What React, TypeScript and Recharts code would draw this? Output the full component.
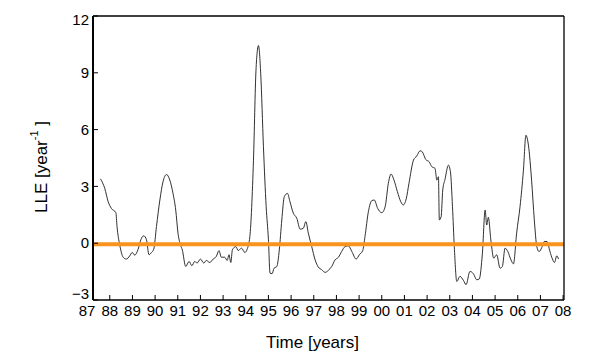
import React from "react";
import { LineChart, Line, XAxis, YAxis, ReferenceLine } from "recharts";

// Time in years (two-digit years continued past 99: 100 = 2000)
const TIME = [
  87.59, 87.78, 87.93, 88.07, 88.27, 88.32, 88.44, 88.59, 88.73, 88.88, 88.99, 89.1, 89.25, 89.37, 89.5,
  89.62, 89.73, 89.84, 89.94, 90.06, 90.21, 90.35, 90.5, 90.65, 90.79, 90.91, 91.01, 91.12, 91.2, 91.35,
  91.5, 91.62, 91.75, 91.85, 92.0, 92.15, 92.26, 92.41, 92.56, 92.7, 92.82, 92.92, 93.07, 93.18, 93.26,
  93.34, 93.41, 93.56, 93.67, 93.81, 93.96, 94.06, 94.18, 94.34, 94.45, 94.56, 94.66, 94.78, 94.9, 95.0,
  95.07, 95.16, 95.25, 95.37, 95.48, 95.59, 95.7, 95.84, 95.95, 96.1, 96.25, 96.4, 96.54, 96.65, 96.76,
  96.91, 97.06, 97.2, 97.35, 97.5, 97.64, 97.79, 97.94, 98.09, 98.23, 98.38, 98.53, 98.68, 98.87, 99.01,
  99.16, 99.26, 99.41, 99.56, 99.67, 99.82, 100.0, 100.15, 100.29, 100.41, 100.54, 100.69, 100.84, 100.95,
  101.08, 101.2, 101.4, 101.54, 101.69, 101.79, 101.94, 102.09, 102.21, 102.35, 102.43, 102.5, 102.54,
  102.62, 102.69, 102.79, 102.94, 103.03, 103.12, 103.2, 103.31, 103.45, 103.6, 103.72, 103.89, 104.04,
  104.19, 104.3, 104.44, 104.56, 104.63, 104.7, 104.82, 104.94, 105.07, 105.22, 105.32, 105.44, 105.56,
  105.7, 105.81, 105.95, 106.1, 106.25, 106.36, 106.47, 106.61, 106.73, 106.84, 106.94, 107.06, 107.17,
  107.29, 107.42, 107.53, 107.62, 107.72, 107.8,
];

// Largest Lyapunov exponent [1/year]
const LLE = [
  3.4, 2.89, 2.19, 1.84, 1.61, 0.88, -0.09, -0.74, -0.84, -0.67, -0.49, -0.63, -0.32, 0.18, 0.39,
  0.18, -0.61, -0.49, -0.32, 0.88, 2.28, 3.25, 3.63, 3.33, 2.63, 1.75, 0.53, -0.09, -0.35, -1.23,
  -0.96, -1.19, -0.96, -1.05, -0.84, -1.05, -0.91, -1.02, -0.84, -0.7, -0.39, -0.74, -0.74, -0.91, -0.61,
  -1.02, -0.35, -0.18, -0.39, -0.26, -0.49, -0.32, 0.35, 4.39, 9.12, 10.44, 8.95, 5.09, 1.93, 0.18,
  -1.58, -1.61, -1.32, -1.23, -0.35, 1.23, 2.46, 2.63, 2.19, 1.58, 1.32, 0.74, 0.79, 1.14, 0.53,
  -0.18, -0.88, -1.26, -1.4, -1.54, -1.44, -1.23, -0.88, -0.74, -0.44, -0.18, -0.14, -0.44, -0.84, -0.61,
  -0.39, 0.35, 1.67, 2.25, 2.28, 1.84, 1.61, 1.93, 3.16, 3.65, 3.33, 2.72, 2.19, 2.02,
  2.35, 3.16, 4.39, 4.6, 4.88, 4.82, 4.42, 4.3, 4.04, 3.95, 3.33, 3.51, 1.23,
  1.4, 2.81, 3.37, 4.12, 3.77, 1.93, -0.18, -2.02, -1.75, -1.96, -2.19, -1.49, -1.61,
  -1.93, -1.89, -0.53, 1.75, 0.96, 1.37, 0.09, -0.79, -0.61, -1.32, -1.23, -0.26, -0.44,
  -0.88, -1.09, 0.53, 1.93, 3.86, 5.7, 5.18, 3.33, 1.23, -0.18, -0.44, -0.23, 0.09,
  0.09, -0.44, -0.84, -1.02, -0.67, -0.84,
];

const YEAR_TICKS = [87, 88, 89, 90, 91, 92, 93, 94, 95, 96, 97, 98, 99, 100, 101, 102, 103, 104, 105, 106, 107, 108];
const INNER_YEAR_TICKS = YEAR_TICKS.filter((t) => t >= 88);
const LLE_TICKS = [-3, 0, 3, 6, 9, 12];
const X_DOMAIN: [number, number] = [87.26, 108.04];
const Y_DOMAIN: [number, number] = [-3, 12];
const ZERO_LEVEL = -0.05;

const data = TIME.map((t, i) => ({ t, lle: LLE[i] }));

const FONT = "'Liberation Sans', Arial, Helvetica, sans-serif";

const yearLabel = (v: number) => String(v % 100).padStart(2, "0");

function BottomTick(props: any) {
  const { x, y, payload } = props;
  const axisY = y - 5;
  const inside = payload.value >= X_DOMAIN[0] && payload.value <= X_DOMAIN[1];
  return (
    <g>
      {inside && <line x1={x} x2={x} y1={axisY} y2={axisY - 5} stroke="#000" strokeWidth={1} />}
      <text x={x} y={y} dy="0.71em" textAnchor="middle" fontSize={15} fontFamily={FONT} fill="#000">
        {yearLabel(payload.value)}
      </text>
    </g>
  );
}

function LeftTick(props: any) {
  const { x, y, payload } = props;
  const v = payload.value as number;
  // the end labels sit slightly inside the axis range, as in the original figure
  const shift = v === Y_DOMAIN[0] ? -6 : v === Y_DOMAIN[1] ? 4 : 0;
  return (
    <text x={x} y={y + shift} dy="0.35em" textAnchor="end" fontSize={15} fontFamily={FONT} fill="#000">
      {v < 0 ? "\u2212" + Math.abs(v) : String(v)}
    </text>
  );
}

function XTitle(props: any) {
  const { x, y, width } = props.viewBox;
  return (
    <text x={x + width / 2 - 16} y={y + 42} textAnchor="middle" dominantBaseline="central" fontSize={17} fontFamily={FONT} fill="#000">
      Time [years]
    </text>
  );
}

function YTitle(props: any) {
  const { x, y, height } = props.viewBox;
  const cx = x + 41;
  const cy = y + height / 2 + 9;
  return (
    <text
      transform={`rotate(-90 ${cx} ${cy})`}
      x={cx}
      y={cy}
      textAnchor="middle"
      dominantBaseline="central"
      fontSize={17}
      fontFamily={FONT}
      fill="#000"
    >
      LLE [year
      <tspan dy={-7} fontSize={11}>-1</tspan>
      <tspan dy={7}> ]</tspan>
    </text>
  );
}

export default function App() {
  return (
    <div style={{ position: "absolute", left: 0, top: 0, width: 600, height: 360, background: "#fff" }}>
      <LineChart width={600} height={360} data={data} margin={{ top: 15, right: 35, bottom: 29, left: 0 }}>
        <XAxis
          xAxisId="top"
          orientation="top"
          type="number"
          dataKey="t"
          domain={X_DOMAIN}
          ticks={INNER_YEAR_TICKS}
          allowDataOverflow
          height={1}
          tick={false}
          tickSize={-5}
          axisLine={{ stroke: "#000", strokeWidth: 1.3 }}
          tickLine={{ stroke: "#000", strokeWidth: 1 }}
        />
        <XAxis
          type="number"
          dataKey="t"
          domain={X_DOMAIN}
          ticks={YEAR_TICKS}
          allowDataOverflow
          interval={0}
          height={31}
          tickSize={0}
          tickMargin={5}
          tickLine={false}
          tick={<BottomTick />}
          axisLine={{ stroke: "#000", strokeWidth: 1.5 }}
          label={<XTitle />}
        />
        <YAxis
          type="number"
          domain={Y_DOMAIN}
          ticks={LLE_TICKS}
          interval={0}
          width={93}
          tickSize={-5}
          tickMargin={9}
          tick={<LeftTick />}
          axisLine={{ stroke: "#000", strokeWidth: 2 }}
          tickLine={{ stroke: "#000", strokeWidth: 1 }}
          label={<YTitle />}
        />
        <YAxis
          yAxisId="right"
          orientation="right"
          type="number"
          domain={Y_DOMAIN}
          ticks={LLE_TICKS}
          width={1}
          tick={false}
          tickSize={-5}
          axisLine={{ stroke: "#000", strokeWidth: 1.3 }}
          tickLine={{ stroke: "#000", strokeWidth: 1 }}
        />
        <Line
          type="monotone"
          dataKey="lle"
          stroke="#1a1a1a"
          strokeWidth={0.9}
          dot={false}
          activeDot={false}
          isAnimationActive={false}
        />
        <ReferenceLine y={ZERO_LEVEL} stroke="#f7931e" strokeWidth={4} />
      </LineChart>
    </div>
  );
}
